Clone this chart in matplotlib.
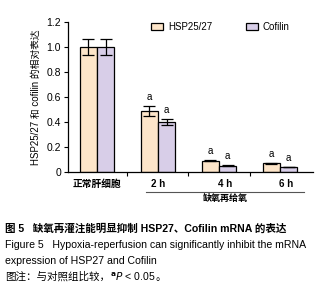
import numpy as np
import matplotlib
matplotlib.use("Agg")
import matplotlib.pyplot as plt

plt.rcParams['font.family'] = ['Liberation Sans', 'Noto Sans CJK SC', 'DejaVu Sans']

groups = ['正常肝细胞', '2 h', '4 h', '6 h']
hsp = [1.0, 0.49, 0.09, 0.07]
hsp_err = [0.065, 0.04, 0.005, 0.004]
cofilin = [1.0, 0.40, 0.05, 0.04]
cofilin_err = [0.065, 0.025, 0.004, 0.003]
sig = ['', 'a', 'a', 'a']
yticks = [0, 0.2, 0.4, 0.6, 0.8, 1.0, 1.2]
ytick_labels = ['0', '0.2', '0.4', '0.6', '0.8', '1.0', '1.2']

col_hsp = '#FDE5C9'
col_cof = '#D8CEE8'

fig = plt.figure(figsize=(3.22, 2.86), dpi=100)
ax = fig.add_axes([0.211, 0.399, 0.761, 0.524])

x = np.arange(len(groups))
w = 0.285
ax.bar(x - w/2, hsp, w, color=col_hsp, edgecolor='black', linewidth=0.9, label='HSP25/27',
       yerr=hsp_err, error_kw=dict(ecolor='black', elinewidth=0.9, capsize=4, capthick=0.9))
ax.bar(x + w/2, cofilin, w, color=col_cof, edgecolor='black', linewidth=0.9, label='Cofilin',
       yerr=cofilin_err, error_kw=dict(ecolor='black', elinewidth=0.9, capsize=4, capthick=0.9))

for i in range(len(groups)):
    if sig[i]:
        ax.text(x[i] - w/2, hsp[i] + hsp_err[i] + 0.03, sig[i], ha='center', va='bottom', fontsize=7)
        ax.text(x[i] + w/2, cofilin[i] + cofilin_err[i] + 0.03, sig[i], ha='center', va='bottom', fontsize=7)

ax.set_xlim(-0.475, 3.54)
ax.set_ylim(0, 1.2)
ax.set_yticks(yticks)
ax.set_yticklabels(ytick_labels, fontsize=7.5)
ax.set_xticks([0.5, 1.5, 2.5])
ax.set_xticklabels([])
ax.tick_params(axis='x', direction='out', length=3, width=0.8)
ax.tick_params(axis='y', direction='out', length=3, width=0.8, pad=2)
for s in ['top', 'right']:
    ax.spines[s].set_visible(False)
for s in ['left', 'bottom']:
    ax.spines[s].set_linewidth(0.9)

# 分组标签
label_pos = [0, 1, 2.1, 3.1]
for p, g in zip(label_pos, groups):
    ax.text(p, -0.1, g, ha='center', va='center', fontsize=7, fontweight='bold', clip_on=False)

ax.plot([0.8, 3.4], [-0.16, -0.16], color='#555555', lw=0.8, clip_on=False)
ax.text(2.1, -0.215, '缺氧再给氧', ha='center', va='center', fontsize=6.5, fontweight='bold')

ax.set_ylabel('HSP25/27 和 cofilin 的相对表达', fontsize=7, labelpad=4)

ax.legend(loc='upper right', bbox_to_anchor=(0.94, 1.06), ncol=2, frameon=False, fontsize=7,
          handlelength=1.2, handleheight=0.8, columnspacing=3.5, handletextpad=0.5)

fs = 7.6
fig.text(0.015, 0.2, '图 5   缺氧再灌注能明显抑制 HSP27、Cofilin mRNA 的表达', fontsize=fs,
         fontweight='bold', va='center')
fig.text(0.015, 0.143, 'Figure 5   Hypoxia-reperfusion can significantly inhibit the mRNA',
         fontsize=fs, va='center')
fig.text(0.015, 0.087, 'expression of HSP27 and Cofilin', fontsize=fs, va='center')

# 图注一行分段写，避免 mathtext 丢失中文字形
t1 = fig.text(0.015, 0.032, '图注：与对照组比较，', fontsize=fs, va='center')
fig.canvas.draw()
r = fig.canvas.get_renderer()
bb = t1.get_window_extent(r).transformed(fig.transFigure.inverted())
t2 = fig.text(bb.x1, 0.032, '$^{\\mathbf{a}}$$\\it{P}$ < 0.05', fontsize=fs, va='center')
bb2 = t2.get_window_extent(r).transformed(fig.transFigure.inverted())
fig.text(bb2.x1, 0.032, '。', fontsize=fs, va='center')

fig.savefig('out.png', dpi=100)
